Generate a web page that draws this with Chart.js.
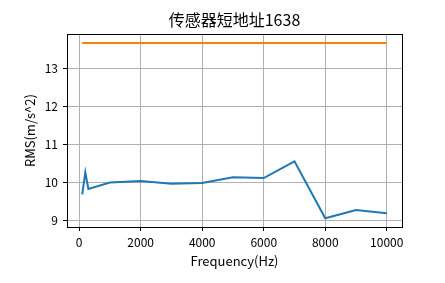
<!DOCTYPE html>
<html lang="zh">
<head>
    <meta charset="UTF-8">
    <title>传感器短地址1638</title>
    <script src="https://cdn.jsdelivr.net/npm/chart.js"></script>
    <style>
        html, body { margin: 0; padding: 0; background: #fff; }
        #wrap { width: 445px; height: 283px; }
    </style>
</head>
<body>
    <div id="wrap"><canvas id="rmsChart" width="445" height="283"></canvas></div>
    <script>
        // data
        const freqs = [100, 200, 300, 1000, 2000, 3000, 4000, 5000, 6000, 7000, 8000, 9000, 10000];
        const rms = [9.69, 10.27, 9.83, 10.0, 10.04, 9.97, 9.99, 10.14, 10.12, 10.56, 9.06, 9.28, 9.19];
        const limitFreqs = [100, 10000];
        const limitRms = [13.68, 13.68];
        const xTicks = [0, 2000, 4000, 6000, 8000, 10000];
        const yTicks = [9, 10, 11, 12, 13];

        const font = "'Noto Sans CJK SC', 'DejaVu Sans', sans-serif";

        // matplotlib style frame around the plot area
        const boxPlugin = {
            id: 'box',
            afterDraw(chart) {
                const a = chart.chartArea;
                const ctx = chart.ctx;
                ctx.save();
                ctx.strokeStyle = '#000';
                ctx.lineWidth = 1;
                ctx.strokeRect(Math.round(a.left) + 0.5, Math.round(a.top) + 0.5,
                    Math.round(a.right - a.left), Math.round(a.bottom - a.top));
                ctx.restore();
            }
        };

        new Chart(document.getElementById('rmsChart'), {
            type: 'line',
            data: {
                datasets: [{
                    data: freqs.map((f, i) => ({ x: f, y: rms[i] })),
                    borderColor: '#1f77b4',
                    borderWidth: 2,
                    pointRadius: 0,
                    tension: 0
                }, {
                    data: limitFreqs.map((f, i) => ({ x: f, y: limitRms[i] })),
                    borderColor: '#ff7f0e',
                    borderWidth: 2,
                    pointRadius: 0,
                    tension: 0
                }]
            },
            options: {
                responsive: false,
                animation: false,
                layout: { padding: { left: 22, right: 43, top: 0, bottom: 14 } },
                plugins: {
                    legend: { display: false },
                    tooltip: { enabled: false },
                    title: {
                        display: true,
                        fullSize: false,
                        text: '传感器短地址1638',
                        color: '#000',
                        font: { family: font, size: 16, weight: 'normal' },
                        padding: { top: 10, bottom: 5 }
                    }
                },
                scales: {
                    x: {
                        type: 'linear',
                        min: -395,
                        max: 10495,
                        afterBuildTicks(scale) { scale.ticks = xTicks.map(v => ({ value: v })); },
                        afterFit(scale) { scale.height = 42; },
                        grid: { color: '#b0b0b0', tickColor: '#000', tickLength: 4 },
                        border: { display: false },
                        ticks: {
                            color: '#000', font: { family: font, size: 12 }, padding: 4, maxRotation: 0,
                            callback: v => String(v)
                        },
                        title: {
                            display: true,
                            text: 'Frequency(Hz)',
                            color: '#000',
                            font: { family: font, size: 13 },
                            padding: { top: 2, bottom: 0 }
                        }
                    },
                    y: {
                        min: 8.83,
                        max: 13.91,
                        afterBuildTicks(scale) { scale.ticks = yTicks.map(v => ({ value: v })); },
                        afterFit(scale) { scale.width = 45; },
                        grid: { color: '#b0b0b0', tickColor: '#000', tickLength: 4 },
                        border: { display: false },
                        ticks: {
                            color: '#000', font: { family: font, size: 12 }, padding: 5,
                            callback: v => String(v)
                        },
                        title: {
                            display: true,
                            text: 'RMS(m/s^2)',
                            color: '#000',
                            font: { family: font, size: 13 },
                            padding: { top: 0, bottom: 0 }
                        }
                    }
                }
            },
            plugins: [boxPlugin]
        });
    </script>
</body>
</html>
